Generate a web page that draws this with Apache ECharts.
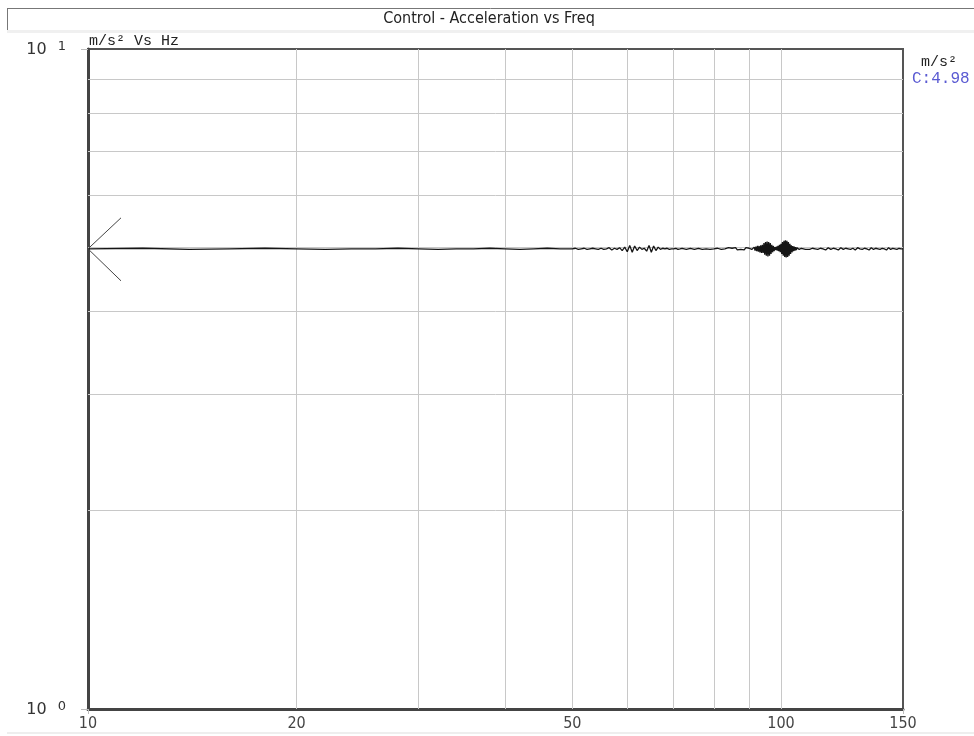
<!DOCTYPE html>
<html><head><meta charset="utf-8">
<script src="https://cdn.jsdelivr.net/npm/echarts@6/dist/echarts.min.js"></script>
<style>html,body{margin:0;padding:0;background:#fff}#c{width:974px;height:736px}</style>
</head><body><div id="c"></div>
<script>
// ---- data ----
const titleText = 'Control - Acceleration vs Freq';
const unitLabel = 'm/s² Vs Hz';
const cursorUnit = 'm/s²';
const cursorValue = 4.98;
const xTickLabels = [10, 20, 50, 100, 150];
const xGrid = [20, 30, 40, 50, 60, 70, 80, 90, 100];
const yTickLabels = [1, 10];
const yGrid = [2, 3, 4, 5, 6, 7, 8, 9];

const freqA = [10,12,14,16,18,20,22,24,26,28,30,32,34,36,38,40,42,44,46,48,50];
const accA  = [4.98,4.99,4.97,4.98,4.99,4.98,4.97,4.98,4.98,4.99,4.98,4.97,4.98,4.98,4.99,4.98,4.97,4.98,4.99,4.98,4.98];

const freqB = [50.5,51,51.5,52,52.5,53,53.5,54,54.5,55,55.5,56,56.5,57,57.5,58,58.5,59,59.5,
  60,60.5,61,61.5,62,62.5,63,63.5,64,64.5,65,65.5,66,66.5,67,67.5,68,68.5,69,69.5,
  70,70.5,71,71.5,72,72.5,73,73.5,74,74.5,75,75.5,76,76.5,77,77.5,78,78.5,79,79.5,
  80,80.5,81,81.5,82,82.5,83,83.5,84,84.5,85,85.5,86,86.5,87,87.5,88,88.5,89,89.5];
const accB = [4.99,4.97,4.98,4.99,4.97,4.98,4.99,4.98,4.97,
  4.99,4.97,4.98,5.00,4.96,4.99,4.97,5.00,4.95,5.01,
  4.93,5.04,4.92,5.03,4.95,5.01,4.97,4.99,4.94,5.04,
  4.92,5.03,4.95,5.01,4.97,4.99,4.98,4.99,4.97,4.98,
  4.98,4.99,4.97,4.98,4.99,4.98,4.97,4.98,4.99,4.98,
  4.97,4.98,4.99,4.98,4.97,4.99,4.98,4.98,4.97,4.99,
  4.98,4.97,4.99,4.98,4.97,4.99,4.98,4.96,5.00,4.97,
  4.99,4.97,5.00,4.96,4.99,4.97,5.00,4.96,5.00,4.97];

const freqC = [90,90.25,90.5,90.75,91,91.25,91.5,91.75,92,92.25,92.5,92.75,93,93.25,93.5,93.75,
  94,94.25,94.5,94.75,95,95.25,95.5,95.75,96,96.25,96.5,96.75,97,97.25,97.5,97.75,
  98,98.25,98.5,98.75,99,99.25,99.5,99.75,100,100.25,100.5,100.75,101,101.25,101.5,101.75,
  102,102.25,102.5,102.75,103,103.25,103.5,103.75,104,104.25,104.5,104.75,105,105.25,105.5,105.75,
  106,106.25,106.5,106.75,107,107.25,107.5,107.75,108,108.25,108.5,108.75,109,109.25,109.5,109.75];
const accC = [4.99,4.96,5.00,4.97,4.99,4.96,5.01,4.95,
  5.02,4.94,5.03,4.93,5.03,4.92,5.04,4.91,
  5.05,4.91,5.08,4.88,5.10,4.86,5.11,4.85,
  5.10,4.86,5.08,4.89,5.05,4.92,5.03,4.94,
  5.01,4.96,5.02,4.95,5.03,4.94,5.05,4.92,
  5.07,4.89,5.10,4.86,5.12,4.84,5.13,4.83,
  5.12,4.84,5.10,4.86,5.07,4.89,5.04,4.92,
  5.03,4.94,5.02,4.95,5.01,4.96,5.00,4.97,
  4.99,4.97,5.00,4.96,4.99,4.97,4.99,4.98,
  4.98,4.99,4.97,4.99,4.98,4.97,4.99,4.98];

const freqD = [110,111,112,113,114,115,116,117,118,119,120,121,122,123,124,125,126,127,128,129,130,
  131,132,133,134,135,136,137,138,139,140,141,142,143,144,145,146,147,148,149,150];
const accD = [4.97,4.99,4.98,4.97,4.99,4.98,4.96,5.00,4.97,4.99,4.98,4.96,5.00,4.97,4.99,4.98,4.97,4.99,4.96,5.00,4.98,
  4.97,4.99,4.98,4.96,5.00,4.97,4.99,4.98,4.97,4.99,4.98,4.96,5.00,4.97,4.99,4.98,4.97,4.99,4.98,4.98];

const freqs = [].concat(freqA, freqB, freqC, freqD);
const accs = [].concat(accA, accB, accC, accD);
const seriesData = freqs.map((f, i) => [f, accs[i]]);

// ---- chart ----
const chart = echarts.init(document.getElementById('c'), null, {renderer: 'canvas'});
const narrow = '"DejaVu Sans Condensed","Liberation Sans Narrow","Arial Narrow","Liberation Sans",sans-serif';
const mono = '"Liberation Mono","Courier New",monospace';

chart.setOption({
  animation: false,
  backgroundColor: '#fff',
  grid: {left: 88, right: 71, top: 49, bottom: 27, show: true, borderColor: '#555', borderWidth: 2, backgroundColor: '#fff'},
  xAxis: {
    type: 'log', logBase: 10, min: 10, max: 150,
    axisLine: {show: true, lineStyle: {color: '#444', width: 3}},
    axisTick: {show: true, customValues: [10, 150], length: 5, lineStyle: {color: '#bbb'}},
    axisLabel: {customValues: xTickLabels, fontFamily: narrow, fontSize: 16, color: '#444', margin: 7,
      formatter: v => String(Math.round(v))},
    splitLine: {show: false}
  },
  yAxis: {
    type: 'log', logBase: 10, min: 1, max: 10,
    axisLine: {show: true, lineStyle: {color: '#444', width: 3}},
    axisTick: {show: true, customValues: yTickLabels, length: 7, lineStyle: {color: '#bbb'}},
    axisLabel: {customValues: yTickLabels, margin: 22,
      formatter: v => '{b|10}{s|' + Math.round(Math.log10(v)) + '}',
      rich: {
        b: {fontFamily: '"DejaVu Sans",sans-serif', fontSize: 16, color: '#333', verticalAlign: 'bottom'},
        s: {fontFamily: '"DejaVu Sans",sans-serif', fontSize: 13, color: '#333', padding: [0, 0, 5, 11], verticalAlign: 'bottom'}
      }},
    splitLine: {show: false}
  },
  series: [
    {
      type: 'line', data: seriesData, showSymbol: false, symbol: 'none',
      lineStyle: {color: '#151515', width: 1.3}, z: 5,
      markLine: {
        silent: true, symbol: 'none', animation: false,
        label: {show: false},
        lineStyle: {color: '#c8c8c8', width: 1, type: 'solid'},
        data: xGrid.map(v => ({xAxis: v})).concat(yGrid.map(v => ({yAxis: v})))
      }
    },
    {
      type: 'custom', z: 6, silent: true,
      data: [[10, cursorValue]],
      renderItem: function (params, api) {
        const p = api.coord([api.value(0), api.value(1)]);
        return {
          type: 'group',
          children: [
            {type: 'line', shape: {x1: p[0], y1: p[1], x2: p[0] + 33, y2: p[1] - 31}, style: {stroke: '#444', lineWidth: 1}},
            {type: 'line', shape: {x1: p[0], y1: p[1], x2: p[0] + 33, y2: p[1] + 32}, style: {stroke: '#444', lineWidth: 1}}
          ]
        };
      }
    }
  ],
  graphic: [
    {type: 'line', shape: {x1: 7, y1: 8.5, x2: 974, y2: 8.5}, style: {stroke: '#777', lineWidth: 1}},
    {type: 'line', shape: {x1: 7.5, y1: 8, x2: 7.5, y2: 31}, style: {stroke: '#777', lineWidth: 1}},
    {type: 'rect', shape: {x: 7, y: 30, width: 967, height: 3}, style: {fill: '#f0f0f0'}},
    {type: 'rect', shape: {x: 7, y: 732, width: 967, height: 2}, style: {fill: '#eeeeee'}},
    {type: 'text', x: 489, y: 19, style: {text: titleText, font: '16px ' + narrow, fill: '#222', align: 'center', verticalAlign: 'middle'}},
    {type: 'text', left: 89, top: 34, style: {text: unitLabel, font: '15px ' + mono, fill: '#222'}},
    {type: 'text', left: 921, top: 55, style: {text: cursorUnit, font: '15px ' + mono, fill: '#222'}},
    {type: 'text', left: 912, top: 71, style: {text: 'C:' + cursorValue.toFixed(2), font: '16px ' + mono, fill: '#5a5ad2'}}
  ]
});
</script></body></html>
